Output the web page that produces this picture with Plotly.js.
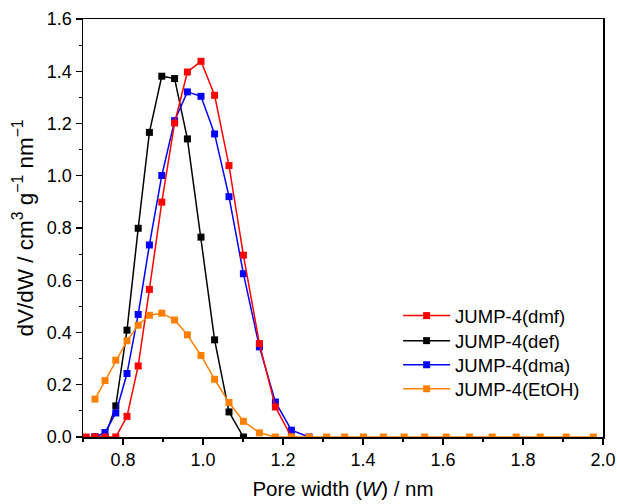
<!DOCTYPE html>
<html>
<head>
<meta charset="utf-8">
<script src="https://cdn.plot.ly/plotly-3.0.1.min.js"></script>
<style>html,body{margin:0;padding:0;background:#fff;}#chart{width:617px;height:504px;}</style>
</head>
<body>
<div id="chart"></div>
<script>
// Pore width values (nm)
const xDmf = [0.708, 0.730, 0.755, 0.782, 0.810, 0.838, 0.866, 0.897, 0.929, 0.961, 0.995, 1.029, 1.065, 1.101, 1.141, 1.181, 1.221];
const yDmf = [0, 0, 0, 0, 0.079, 0.272, 0.565, 0.899, 1.202, 1.397, 1.438, 1.308, 1.039, 0.696, 0.358, 0.115, 0];

const xDef = [0.730, 0.755, 0.782, 0.810, 0.838, 0.866, 0.897, 0.929, 0.961, 0.995, 1.029, 1.065, 1.101];
const yDef = [0, 0, 0.119, 0.409, 0.799, 1.166, 1.381, 1.372, 1.141, 0.765, 0.372, 0.096, 0];

const xDma = [0.730, 0.755, 0.782, 0.810, 0.838, 0.866, 0.897, 0.929, 0.961, 0.995, 1.029, 1.065, 1.101, 1.141, 1.181, 1.221, 1.265];
const yDma = [0, 0.017, 0.092, 0.243, 0.469, 0.735, 1.001, 1.211, 1.321, 1.304, 1.160, 0.920, 0.625, 0.345, 0.134, 0.026, 0];

const xEtOH = [0.730, 0.755, 0.782, 0.810, 0.838, 0.866, 0.897, 0.929, 0.961, 0.995, 1.029, 1.065, 1.101, 1.141, 1.181, 1.221, 1.265, 1.309, 1.354, 1.401, 1.451, 1.503, 1.554, 1.608, 1.666, 1.723, 1.783, 1.843, 1.908, 1.976];
const yEtOH = [0.145, 0.216, 0.294, 0.368, 0.428, 0.466, 0.474, 0.448, 0.391, 0.312, 0.221, 0.132, 0.060, 0.016, 0, 0, 0, 0, 0, 0, 0, 0, 0, 0, 0, 0, 0, 0, 0, 0];

const seriesNames = ['JUMP-4(dmf)', 'JUMP-4(def)', 'JUMP-4(dma)', 'JUMP-4(EtOH)'];
const seriesColors = ['#ff0000', '#000000', '#0000ff', '#ff8000'];
const legendIds = ['legend', 'legend2', 'legend3', 'legend4'];

function mk(x, y, i) {
  return {
    x: x, y: y, type: 'scatter', mode: 'lines+markers',
    name: seriesNames[i], legend: legendIds[i],
    line: {color: seriesColors[i], width: 1.5},
    marker: {symbol: 'square', size: 7, color: seriesColors[i]}
  };
}

const data = [
  mk(xDef, yDef, 1),
  mk(xDma, yDma, 2),
  mk(xDmf, yDmf, 0),
  mk(xEtOH, yEtOH, 3)
];

const fontFam = '"Liberation Sans", Arial, sans-serif';
function leg(yc) {
  return {x: 0.606, y: yc, xanchor: 'left', yanchor: 'middle', bgcolor: 'rgba(0,0,0,0)',
          itemwidth: 47, font: {size: 18.5, family: fontFam, color: '#000'}};
}
const layout = {
  width: 617, height: 504,
  margin: {l: 83, r: 14, t: 19, b: 67},
  paper_bgcolor: '#fff', plot_bgcolor: '#fff',
  font: {family: fontFam, color: '#000', size: 18},
  showlegend: true,
  legend: leg(0.2893),
  legend2: leg(0.2294),
  legend3: leg(0.1719),
  legend4: leg(0.1143),
  xaxis: {
    range: [0.7, 2.0], dtick: 0.2, tick0: 0, tickformat: '.1f',
    showgrid: false, zeroline: false,
    showline: true, linecolor: '#000', linewidth: 1.5, mirror: true,
    ticks: 'outside', ticklen: 6, tickwidth: 1.2, tickcolor: '#000',
    minor: {dtick: 0.1, tick0: 0, ticks: 'outside', ticklen: 3, tickwidth: 1.2, tickcolor: '#000'},
    tickfont: {size: 18},
    title: {text: 'Pore width (<i>W</i>) / nm', font: {size: 20.5}, standoff: 12}
  },
  yaxis: {
    range: [0, 1.6], dtick: 0.2, tick0: 0, tickformat: '.1f',
    showgrid: false, zeroline: false,
    showline: true, linecolor: '#000', linewidth: 1.5, mirror: true,
    ticks: 'outside', ticklen: 6, tickwidth: 1.2, tickcolor: '#000',
    minor: {dtick: 0.1, tick0: 0, ticks: 'outside', ticklen: 3, tickwidth: 1.2, tickcolor: '#000'},
    tickfont: {size: 18},
    title: {text: 'dV/dW / cm<sup>3</sup> g<sup>−1</sup> nm<sup>−1</sup>', font: {size: 22.5}, standoff: 7}
  }
};

Plotly.newPlot('chart', data, layout, {displayModeBar: false, staticPlot: true});
</script>
</body>
</html>
